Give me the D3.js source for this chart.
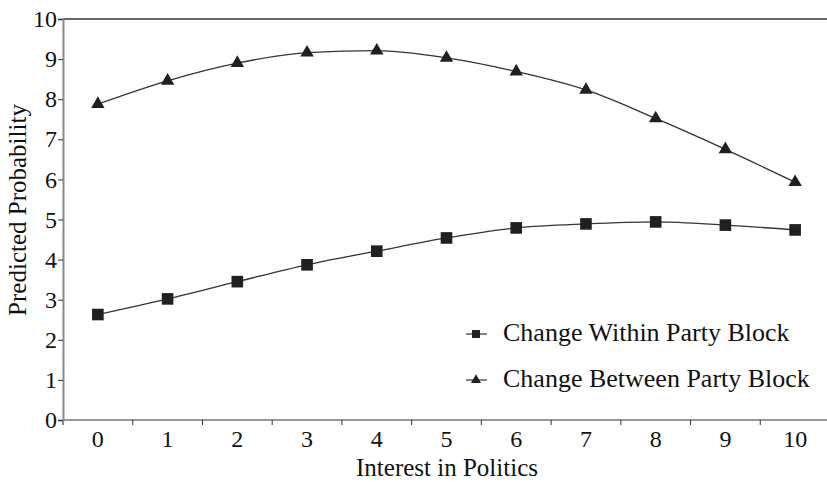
<!DOCTYPE html>
<html>
<head>
<meta charset="utf-8">
<script src="https://cdn.jsdelivr.net/npm/d3@7"></script>
<style>
  body { margin: 0; background: #fff; }
  svg text { font-family: "Liberation Serif", "Times New Roman", serif; fill: #111; }
</style>
</head>
<body>
<svg id="chart" width="827" height="482"></svg>
<script>
const categories = [0, 1, 2, 3, 4, 5, 6, 7, 8, 9, 10];
const withinBlock = [2.63, 3.02, 3.45, 3.87, 4.21, 4.54, 4.79, 4.89, 4.94, 4.86, 4.74];
const betweenBlock = [7.88, 8.46, 8.90, 9.16, 9.21, 9.03, 8.69, 8.23, 7.52, 6.75, 5.93];
const yTicks = [0, 1, 2, 3, 4, 5, 6, 7, 8, 9, 10];
const seriesNames = ['Change Within Party Block', 'Change Between Party Block'];

function translate(x, y) {
    return `translate(${x}, ${y})`;
}

const svg = d3.select('#chart');
const plotLeft = 63, plotTop = 19, plotBottom = 420, plotRight = 830;

const xScale = d3.scaleBand()
    .domain(categories)
    .range([plotLeft, plotRight])
    .padding(0);
const yScale = d3.scaleLinear()
    .domain([0, 10])
    .range([plotBottom, plotTop]);
const cx = d => xScale(d) + xScale.bandwidth() / 2;

// top border line
svg.append('line')
    .attr('x1', plotLeft).attr('x2', 827)
    .attr('y1', yScale(10)).attr('y2', yScale(10))
    .attr('stroke', '#333').attr('stroke-width', 1.5);

// x axis: ticks on band boundaries
const xAxis = svg.append('g')
    .attr('transform', translate(0, plotBottom));
xAxis.append('line')
    .attr('x1', plotLeft).attr('x2', 827)
    .attr('stroke', '#333').attr('stroke-width', 1.2);
xAxis.selectAll('.xtick')
    .data(categories)
    .enter().append('line')
    .attr('x1', d => xScale(d)).attr('x2', d => xScale(d))
    .attr('y1', 0).attr('y2', 5)
    .attr('stroke', d => d === 0 ? '#888' : '#333')
    .attr('stroke-width', d => d === 0 ? 2 : 1);
xAxis.selectAll('.xlabel')
    .data(categories)
    .enter().append('text')
    .attr('x', d => cx(d))
    .attr('y', 27)
    .attr('text-anchor', 'middle')
    .attr('font-size', 24)
    .text(d => d);

// y axis
svg.append('g')
    .attr('transform', translate(plotLeft, 0))
    .call(d3.axisLeft(yScale).tickValues(yTicks).tickSize(5).tickPadding(1))
    .call(g => g.select('.domain').attr('stroke', '#888').attr('stroke-width', 2))
    .call(g => g.selectAll('.tick line').attr('stroke', '#333'))
    .call(g => g.selectAll('.tick text')
        .attr('font-size', 24)
        .attr('font-family', '"Liberation Serif", serif')
        .attr('fill', '#111'));

// axis titles
svg.append('text')
    .attr('x', 447)
    .attr('y', 476)
    .attr('text-anchor', 'middle')
    .attr('font-size', 25)
    .text('Interest in Politics');
svg.append('text')
    .attr('transform', translate(26, 210) + ' rotate(-90)')
    .attr('text-anchor', 'middle')
    .attr('font-size', 25)
    .text('Predicted Probability');

// lines
const line = d3.line()
    .x((d, i) => cx(categories[i]))
    .y(d => yScale(d))
    .curve(d3.curveMonotoneX);

[withinBlock, betweenBlock].forEach(series => {
    svg.append('path')
        .datum(series)
        .attr('d', line)
        .attr('fill', 'none')
        .attr('stroke', '#333')
        .attr('stroke-width', 1.3);
});

const square = d3.symbol().type(d3.symbolSquare).size(135);
const triangle = d3.symbol().type(d3.symbolTriangle).size(78);

svg.selectAll('.sq')
    .data(withinBlock)
    .enter().append('path')
    .attr('d', square)
    .attr('transform', (d, i) => translate(cx(categories[i]), yScale(d)))
    .attr('fill', '#231f20');
svg.selectAll('.tri')
    .data(betweenBlock)
    .enter().append('path')
    .attr('d', triangle)
    .attr('transform', (d, i) => translate(cx(categories[i]), yScale(d)))
    .attr('fill', '#231f20');

// legend
const legend = svg.append('g').attr('transform', translate(466, 0));
const legendRows = [
    { name: seriesNames[0], sym: d3.symbol().type(d3.symbolSquare).size(64), y: 334 },
    { name: seriesNames[1], sym: d3.symbol().type(d3.symbolTriangle).size(44), y: 380 }
];
legendRows.forEach(r => {
    legend.append('line')
        .attr('x1', 0).attr('x2', 21)
        .attr('y1', r.y).attr('y2', r.y)
        .attr('stroke', '#333').attr('stroke-width', 1.2);
    legend.append('path')
        .attr('d', r.sym())
        .attr('transform', translate(10, r.y))
        .attr('fill', '#231f20');
    legend.append('text')
        .attr('x', 37)
        .attr('y', r.y + 7)
        .attr('font-size', 26)
        .text(r.name);
});
</script>
</body>
</html>
